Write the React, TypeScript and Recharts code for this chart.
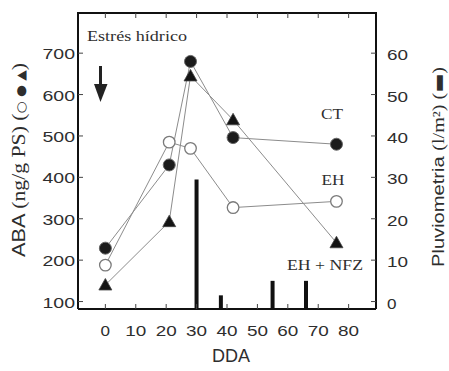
import React from "react";
import { ComposedChart, Line, Bar, XAxis, YAxis } from "recharts";

// días después de antesis
const days = [0, 21, 28, 42, 76];
const abaCT = [229, 430, 680, 496, 480];
const abaEH = [188, 485, 470, 327, 342];
const abaNFZ = [140, 293, 645, 539, 242];

// pluviometría (l/m2)
const rainDays = [30, 38, 55, 66];
const rainMm = [29.5, 1.5, 5, 5];

const xTicks = [0, 10, 20, 30, 40, 50, 60, 70, 80];
const abaTicks = [100, 200, 300, 400, 500, 600, 700];
const rainTicks = [0, 10, 20, 30, 40, 50, 60];

const X_DOMAIN = [-9, 89];
const ABA_DOMAIN = [82, 797];
const RAIN_DOMAIN = [-1.8, 69.7];

const allX = Array.from(new Set([...days, ...rainDays])).sort((a, b) => a - b);
const rows = allX.map((x) => {
  const i = days.indexOf(x);
  const r = rainDays.indexOf(x);
  return {
    x,
    ct: i >= 0 ? abaCT[i] : null,
    eh: i >= 0 ? abaEH[i] : null,
    nfz: i >= 0 ? abaNFZ[i] : null,
    rain: r >= 0 ? [RAIN_DOMAIN[0], rainMm[r]] : null,
  };
});

const W = 449;
const H = 371;
const MARGIN = { top: 13, right: 13, bottom: 22, left: 28 };
const Y_LEFT_W = 50;
const Y_RIGHT_W = 60;
const X_H = 40;
// área de trazado que resulta de los márgenes y anchos de ejes
const PLOT = {
  left: MARGIN.left + Y_LEFT_W,
  right: W - MARGIN.right - Y_RIGHT_W,
  top: MARGIN.top,
  bottom: H - MARGIN.bottom - X_H,
};
const lin = (d: number[], r0: number, r1: number) => (v: number) => r0 + ((v - d[0]) / (d[1] - d[0])) * (r1 - r0);
const sx = lin(X_DOMAIN, PLOT.left, PLOT.right);
const syL = lin(ABA_DOMAIN, PLOT.bottom, PLOT.top);
const syR = lin(RAIN_DOMAIN, PLOT.bottom, PLOT.top);

const INK = "#2e2e2e";
const LINE = "#8c8c8c";
const SANS = "'Liberation Sans', Arial, sans-serif";
const SERIF = "'Liberation Serif', 'Times New Roman', serif";

const tickText = (anchor: string, dx: number, dy: number) => (props: any) => {
  const { x, y, payload } = props;
  const s = String(payload.value);
  return (
    <text
      x={x + dx}
      y={y + dy}
      textAnchor={anchor}
      fontSize={15}
      fontFamily={SANS}
      fill={INK}
      textLength={s.length * 11.5 - 2}
      lengthAdjust="spacingAndGlyphs"
    >
      {s}
    </text>
  );
};

const FilledDot = (props: any) => {
  const { cx, cy } = props;
  if (cx == null || cy == null) return <g />;
  return <circle cx={cx} cy={cy} r={6} fill="#1c1c1c" stroke="#666" strokeWidth={1} />;
};

const OpenDot = (props: any) => {
  const { cx, cy } = props;
  if (cx == null || cy == null) return <g />;
  return <circle cx={cx} cy={cy} r={5.8} fill="#fff" stroke="#7a7a7a" strokeWidth={1.3} />;
};

const TriDot = (props: any) => {
  const { cx, cy } = props;
  if (cx == null || cy == null) return <g />;
  return (
    <polygon
      points={`${cx},${cy - 6.5} ${cx - 6.5},${cy + 5} ${cx + 6.5},${cy + 5}`}
      fill="#141414"
      stroke="#444"
      strokeWidth={0.8}
    />
  );
};

// marco superior, marcas hacia dentro, textos y flecha
const Overlay = () => (
  <svg width={W} height={H} style={{ position: "absolute", left: 0, top: 0, pointerEvents: "none" }}>
    <line x1={PLOT.left - 1} y1={PLOT.top} x2={PLOT.right + 1} y2={PLOT.top} stroke="#111" strokeWidth={2} />
    {xTicks.map((t) => (
      <g key={"x" + t} stroke="#444" strokeWidth={1}>
        <line x1={sx(t)} y1={PLOT.top} x2={sx(t)} y2={PLOT.top + 5} />
        <line x1={sx(t)} y1={PLOT.bottom} x2={sx(t)} y2={PLOT.bottom - 5} />
      </g>
    ))}
    {abaTicks.map((t) => (
      <line key={"l" + t} x1={PLOT.left} y1={syL(t)} x2={PLOT.left + 5} y2={syL(t)} stroke="#444" strokeWidth={1} />
    ))}
    {rainTicks.map((t) => (
      <line key={"r" + t} x1={PLOT.right} y1={syR(t)} x2={PLOT.right - 5} y2={syR(t)} stroke="#444" strokeWidth={1} />
    ))}
    <text x={87} y={41} fontSize={14} fontFamily={SERIF} fill={INK} textLength={100} lengthAdjust="spacingAndGlyphs">
      Estrés hídrico
    </text>
    <line x1={100.5} y1={66} x2={100.5} y2={86} stroke="#222" strokeWidth={3} />
    <polygon points="94,84 107.5,84 100.5,102" fill="#222" />
    <text x={332} y={119} textAnchor="middle" fontSize={15} fontFamily={SERIF} fill={INK} textLength={22} lengthAdjust="spacingAndGlyphs">
      CT
    </text>
    <text x={333} y={185} textAnchor="middle" fontSize={15} fontFamily={SERIF} fill={INK} textLength={23} lengthAdjust="spacingAndGlyphs">
      EH
    </text>
    <text x={325} y={270} textAnchor="middle" fontSize={15} fontFamily={SERIF} fill={INK} textLength={76} lengthAdjust="spacingAndGlyphs">
      EH + NFZ
    </text>
    <text x={231} y={362} textAnchor="middle" fontSize={18} fontFamily={SANS} fill={INK}>
      DDA
    </text>
    <text
      transform="translate(25,160) rotate(-90)"
      textAnchor="middle"
      fontSize={19}
      fill={INK}
      textLength={194}
      lengthAdjust="spacingAndGlyphs"
    >
      <tspan fontFamily={SANS}>ABA </tspan>
      <tspan fontFamily={SERIF}>(ng/g PS) (</tspan>
      <tspan fontFamily="'DejaVu Sans', sans-serif" fontSize={12}>○ ● ▲</tspan>
      <tspan fontFamily={SERIF}>)</tspan>
    </text>
    <text
      transform="translate(444,167) rotate(-90)"
      textAnchor="middle"
      fontSize={16}
      fill={INK}
      textLength={200}
      lengthAdjust="spacingAndGlyphs"
    >
      <tspan fontFamily={SANS}>Pluviometria </tspan>
      <tspan fontFamily={SERIF}>(l/m²) (</tspan>
      <tspan fontFamily="'DejaVu Sans', sans-serif">▬</tspan>
      <tspan fontFamily={SERIF}>)</tspan>
    </text>
  </svg>
);

const axisLine = { stroke: "#111", strokeWidth: 2 };

export default function App() {
  return (
    <div style={{ position: "absolute", left: 0, top: 0, width: W, height: H, background: "#fff" }}>
      <ComposedChart width={W} height={H} data={rows} margin={MARGIN}>
        <XAxis
          dataKey="x"
          type="number"
          domain={X_DOMAIN}
          ticks={xTicks}
          allowDataOverflow
          height={X_H}
          axisLine={axisLine}
          tickLine={false}
          tickSize={0}
          tickMargin={0}
          tick={tickText("middle", 0, 27)}
          interval={0}
        />
        <YAxis
          yAxisId="left"
          type="number"
          domain={ABA_DOMAIN}
          ticks={abaTicks}
          allowDataOverflow
          width={Y_LEFT_W}
          axisLine={axisLine}
          tickLine={false}
          tickSize={0}
          tickMargin={3}
          tick={tickText("end", 0, 6)}
          interval={0}
        />
        <YAxis
          yAxisId="right"
          orientation="right"
          type="number"
          domain={RAIN_DOMAIN}
          ticks={rainTicks}
          allowDataOverflow
          width={Y_RIGHT_W}
          axisLine={axisLine}
          tickLine={false}
          tickSize={0}
          tickMargin={11}
          tick={tickText("start", 0, 7)}
          interval={0}
        />
        <Bar yAxisId="right" dataKey="rain" fill="#111" barSize={4} isAnimationActive={false} />
        <Line yAxisId="left" dataKey="eh" stroke={LINE} strokeWidth={1} connectNulls dot={OpenDot} activeDot={false} isAnimationActive={false} />
        <Line yAxisId="left" dataKey="nfz" stroke={LINE} strokeWidth={1} connectNulls dot={TriDot} activeDot={false} isAnimationActive={false} />
        <Line yAxisId="left" dataKey="ct" stroke={LINE} strokeWidth={1} connectNulls dot={FilledDot} activeDot={false} isAnimationActive={false} />
      </ComposedChart>
      <Overlay />
    </div>
  );
}
